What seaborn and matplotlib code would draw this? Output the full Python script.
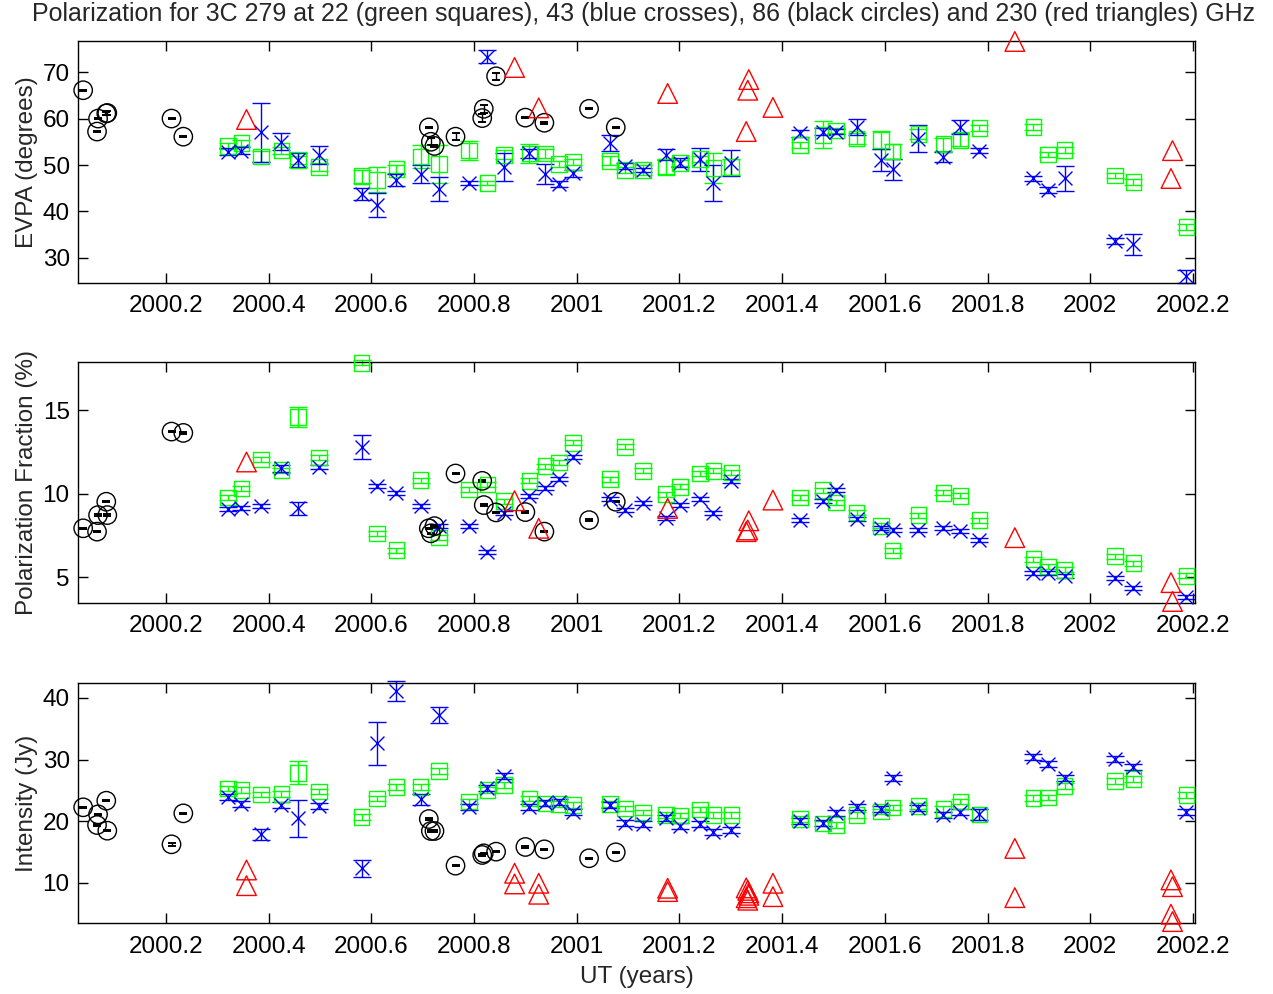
import numpy as np
import pandas as pd
import matplotlib
matplotlib.use("Agg")
import matplotlib.pyplot as plt
from matplotlib.ticker import FixedLocator, FuncFormatter
import seaborn as sns

# ---- 22 & 43 GHz (VLBA) epochs, decimal years ----
t_vlba = [2000.321, 2000.347, 2000.385, 2000.425, 2000.457, 2000.498, 2000.581,
          2000.611, 2000.649, 2000.696, 2000.732, 2000.790, 2000.826, 2000.858,
          2000.908, 2000.939, 2000.965, 2000.993, 2001.065, 2001.094, 2001.129,
          2001.174, 2001.201, 2001.240, 2001.266, 2001.301, 2001.435, 2001.479,
          2001.505, 2001.545, 2001.592, 2001.615, 2001.665, 2001.714, 2001.747,
          2001.784, 2001.889, 2001.918, 2001.950, 2002.048, 2002.084, 2002.187]

# 43 GHz
evpa43 = [52.9, 53.1, 57.0, 55.0, 51.1, 52.2, 43.7, 41.3, 46.8, 48.1, 44.8, 46.1,
          73.3, 49.5, 52.5, 48.1, 45.9, 48.2, 54.7, 49.8, 48.9, 52.2, 50.5, 51.2,
          46.2, 50.4, 56.8, 57.2, 57.2, 58.1, 51.1, 49.1, 55.7, 51.8, 58.1, 53.1,
          47.1, 44.6, 47.1, 33.7, 32.9, 26.0]
evpa43_err = [0.7, 0.7, 6.3, 1.8, 1.5, 1.9, 1.3, 2.6, 1.3, 1.9, 2.6, 0.5,
              1.4, 3.0, 1.0, 2.2, 0.6, 0.8, 1.7, 0.6, 0.5, 1.2, 1.0, 2.5,
              3.9, 2.8, 0.7, 0.8, 0.6, 1.7, 2.3, 2.3, 3.0, 1.1, 1.5, 0.6,
              0.6, 0.7, 2.6, 0.6, 2.2, 1.5]
frac43 = [9.07, 9.13, 9.29, 11.52, 9.13, 11.62, 12.81, 10.46, 10.06, 9.27, 8.07, 8.09,
          6.50, 8.83, 9.87, 10.33, 10.92, 12.18, 9.69, 9.03, 9.43, 8.57, 9.33, 9.67,
          8.83, 10.78, 8.43, 9.57, 10.22, 8.49, 7.97, 7.84, 7.84, 7.97, 7.78, 7.24,
          5.25, 5.25, 5.09, 4.99, 4.35, 3.85]
frac43_err = [0.12, 0.12, 0.12, 0.20, 0.40, 0.12, 0.70, 0.12, 0.12, 0.12, 0.12, 0.12,
              0.12, 0.12, 0.12, 0.12, 0.12, 0.12, 0.12, 0.12, 0.12, 0.12, 0.12, 0.12,
              0.12, 0.12, 0.12, 0.12, 0.12, 0.12, 0.12, 0.12, 0.12, 0.12, 0.12, 0.12,
              0.12, 0.12, 0.12, 0.12, 0.12, 0.12]
int43 = [23.97, 22.79, 17.89, 22.63, 20.47, 22.47, 12.38, 32.62, 41.13, 23.55, 37.20, 22.36,
         25.43, 27.32, 22.36, 22.90, 23.17, 21.44, 22.63, 19.77, 19.55, 20.47, 19.28, 19.55,
         18.20, 18.58, 20.09, 19.66, 21.28, 22.26, 21.93, 27.05, 22.20, 21.00, 21.55, 21.12,
         30.45, 29.22, 26.95, 30.08, 28.83, 21.45]
int43_err = [0.5, 0.5, 0.9, 0.5, 3.0, 0.5, 1.35, 3.5, 1.6, 0.9, 1.35, 0.5,
             0.5, 0.5, 0.5, 0.5, 0.5, 0.5, 0.5, 0.5, 0.5, 0.5, 0.5, 0.5,
             0.5, 0.5, 0.5, 0.5, 0.5, 0.5, 0.5, 0.5, 0.5, 0.5, 0.5, 0.9,
             0.5, 0.5, 0.5, 0.5, 0.5, 0.5]

# 22 GHz
evpa22 = [54.1, 54.7, 51.8, 53.1, 51.1, 49.6, 47.6, 46.8, 49.1, 51.8, 50.2, 53.1,
          46.1, 52.2, 52.5, 52.5, 50.2, 50.7, 50.9, 48.9, 48.9, 49.6, 50.4, 51.3,
          49.3, 49.6, 54.3, 56.5, 57.4, 55.7, 55.4, 52.9, 56.7, 54.5, 55.4, 58.0,
          58.2, 52.3, 53.2, 47.7, 46.3, 36.7]
evpa22_err = [0.7, 0.7, 1.25, 0.8, 0.8, 0.8, 1.4, 2.7, 0.8, 2.5, 4.1, 2.1,
              0.5, 1.0, 2.0, 1.0, 0.6, 0.6, 1.0, 0.6, 1.0, 1.6, 0.6, 0.7,
              3.2, 1.8, 0.6, 2.9, 0.6, 1.25, 2.0, 1.6, 1.0, 1.4, 1.4, 0.6,
              0.6, 0.6, 0.6, 0.6, 0.6, 0.6]
frac22 = [9.79, 10.33, 12.06, 11.42, 14.60, 12.18, 17.85, 7.64, 6.64, 10.82, 7.38, 10.27,
          10.56, 9.57, 10.78, 11.66, 11.88, 13.05, 10.88, 12.81, 11.38, 9.99, 10.42, 11.22,
          11.38, 11.28, 9.79, 10.22, 9.49, 8.89, 8.09, 6.60, 8.73, 10.06, 9.88, 8.43,
          6.10, 5.64, 5.45, 6.28, 5.85, 5.09]
frac22_err = [0.15, 0.15, 0.15, 0.15, 0.58, 0.15, 0.15, 0.15, 0.15, 0.15, 0.15, 0.15,
              0.15, 0.15, 0.15, 0.15, 0.15, 0.15, 0.15, 0.15, 0.15, 0.15, 0.15, 0.15,
              0.15, 0.15, 0.15, 0.15, 0.15, 0.15, 0.15, 0.15, 0.15, 0.15, 0.15, 0.15,
              0.15, 0.15, 0.15, 0.15, 0.15, 0.15]
int22 = [25.33, 25.06, 24.36, 24.41, 27.86, 24.79, 20.73, 23.71, 25.59, 25.59, 28.18, 23.17,
         25.06, 25.87, 23.71, 22.90, 22.79, 22.63, 22.79, 22.09, 21.45, 21.00, 20.90, 21.93,
         21.00, 21.00, 20.36, 19.66, 19.39, 21.00, 21.55, 22.26, 22.47, 21.98, 23.17, 21.12,
         23.81, 23.87, 25.75, 26.56, 26.84, 24.25]
int22_err = [0.45, 0.45, 0.45, 0.45, 1.9, 0.45, 0.45, 0.45, 0.45, 0.45, 0.45, 0.45,
             0.45, 0.45, 0.45, 0.45, 0.45, 0.45, 0.45, 0.45, 0.45, 0.45, 0.45, 0.45,
             0.45, 0.45, 0.45, 0.45, 0.45, 0.45, 0.45, 0.45, 0.45, 0.45, 0.45, 0.9,
             0.45, 0.45, 0.45, 0.45, 0.45, 0.45]

# ---- 86 GHz ----
t86 = [2000.039, 2000.066, 2000.068, 2000.084, 2000.086, 2000.211, 2000.234,
       2000.712, 2000.716, 2000.723, 2000.764, 2000.816, 2000.819, 2000.843,
       2000.900, 2000.937, 2001.024, 2001.076]
evpa86 = [66.1, 57.2, 60.0, 61.1, 61.2, 60.0, 56.1, 58.1, 55.0, 54.1, 56.1, 60.1,
          62.1, 69.1, 60.2, 59.1, 62.1, 58.1]
frac86 = [7.94, 7.74, 8.73, 9.53, 8.73, 13.73, 13.65, 7.94, 7.64, 8.07, 11.22, 10.78,
          9.33, 8.89, 8.91, 7.74, 8.43, 9.53]
int86 = [22.26, 19.39, 21.12, 23.33, 18.47, 16.26, 21.28, 20.36, 18.42, 18.42, 12.80, 14.53,
         14.80, 15.07, 15.83, 15.45, 14.00, 14.97]
evpa86_err = [0.15, 0.15, 0.15, 0.4, 0.4, 0.15, 0.15, 0.15, 0.8, 0.15, 0.8, 0.8,
              0.8, 0.8, 0.15, 0.2, 0.15, 0.15]
frac86_err = [0.04, 0.04, 0.06, 0.04, 0.06, 0.04, 0.04, 0.04, 0.04, 0.04, 0.04, 0.06,
              0.06, 0.04, 0.04, 0.04, 0.04, 0.04]
int86_err = [0.1, 0.1, 0.1, 0.1, 0.1, 0.2, 0.1, 0.1, 0.1, 0.1, 0.1, 0.1,
             0.1, 0.1, 0.1, 0.1, 0.1, 0.1]

# ---- 230 GHz ----
t230 = [2000.357, 2000.879, 2000.926, 2001.177, 2001.330, 2001.333, 2001.335,
        2001.382, 2001.853, 2002.157, 2002.160]
evpa230 = [59.8, 71.0, 62.3, 65.4, 57.2, 66.1, 68.4, 62.4, 76.6, 47.1, 53.1]
frac230 = [11.91, 9.59, 7.94, 9.13, 7.74, 7.84, 8.39, 9.63, 7.38, 4.69, 3.56]
int230_hi = [12.10, 11.57, 9.95, 9.14, 9.20, 8.80, 8.40, 9.95, 15.60, 10.49, 9.40]
int230_lo = [9.56, 9.84, 8.17, 8.60, 7.60, 7.20, 8.00, 7.78, 7.62, 4.93, 3.74]

x_ticks = [2000.2, 2000.4, 2000.6, 2000.8, 2001.0, 2001.2, 2001.4, 2001.6, 2001.8, 2002.0, 2002.2]
x_lim = (2000.029, 2002.204)

GREEN, BLUE, BLACK, RED = (0, 1, 0), (0, 0, 1), (0, 0, 0), (1, 0, 0)

sns.set_style("ticks")
plt.rcParams["font.family"] = ["Liberation Sans", "DejaVu Sans"]
plt.rcParams["font.size"] = 17.5

fig = plt.figure(figsize=(12.73, 9.94), dpi=100)
ax_evpa = fig.add_axes([0.0613, 0.7153, 0.8775, 0.2430])
ax_frac = fig.add_axes([0.0613, 0.3934, 0.8775, 0.2425])
ax_int = fig.add_axes([0.0613, 0.0714, 0.8775, 0.2414])

# capsize is the half-width of the caps, in points
STYLE = {
    "22": dict(color=GREEN, marker="s", s=125, cap=6.8, lw=1.0),
    "43": dict(color=BLUE, marker="x", s=100, cap=6.8, lw=1.0),
    "86": dict(color=BLACK, marker="o", s=175, cap=3.2, lw=1.4),
    "230": dict(color=RED, marker="^", s=200, cap=0, lw=1.0),
}


def draw(ax, band, t, v, err=None):
    st = STYLE[band]
    if err is not None:
        ax.errorbar(t, v, yerr=err, fmt="none", ecolor=st["color"], elinewidth=1.0,
                    capsize=st["cap"], capthick=st["lw"], zorder=2, clip_on=False)
    df = pd.DataFrame({"t": t, "v": v})
    kw = dict(data=df, x="t", y="v", ax=ax, marker=st["marker"], s=st["s"],
              color=st["color"], linewidth=1.0, zorder=3, legend=False, clip_on=False)
    if st["marker"] != "x":
        kw.update(facecolor="none", edgecolor=st["color"])
    sns.scatterplot(**kw)


draw(ax_evpa, "22", t_vlba, evpa22, evpa22_err)
draw(ax_evpa, "43", t_vlba, evpa43, evpa43_err)
draw(ax_evpa, "86", t86, evpa86, evpa86_err)
draw(ax_evpa, "230", t230, evpa230)

draw(ax_frac, "22", t_vlba, frac22, frac22_err)
draw(ax_frac, "43", t_vlba, frac43, frac43_err)
draw(ax_frac, "86", t86, frac86, frac86_err)
draw(ax_frac, "230", t230, frac230)

draw(ax_int, "22", t_vlba, int22, int22_err)
draw(ax_int, "43", t_vlba, int43, int43_err)
draw(ax_int, "86", t86, int86, int86_err)
draw(ax_int, "230", t230, int230_hi)
draw(ax_int, "230", t230, int230_lo)

panels = [
    (ax_evpa, (24.6, 76.6), [30, 40, 50, 60, 70], "EVPA (degrees)"),
    (ax_frac, (3.47, 17.9), [5, 10, 15], "Polarization Fraction (%)"),
    (ax_int, (3.5, 42.4), [10, 20, 30, 40], "Intensity (Jy)"),
]
for ax, ylim, yt, ylab in panels:
    ax.set_xlim(*x_lim)
    ax.set_ylim(*ylim)
    ax.xaxis.set_major_locator(FixedLocator(x_ticks))
    ax.xaxis.set_major_formatter(FuncFormatter(lambda v, p: f"{v:g}"))
    ax.yaxis.set_major_locator(FixedLocator(yt))
    ax.tick_params(direction="in", length=7, width=1.0, top=True, right=True,
                   labelsize=17.5, colors="black")
    ax.tick_params(axis="x", pad=9)
    ax.tick_params(axis="y", pad=6)
    for sp in ax.spines.values():
        sp.set_visible(True)
        sp.set_linewidth(1.0)
        sp.set_color("black")
    ax.set_xlabel("")
    ax.set_ylabel(ylab, fontsize=17.5, labelpad=3)

ax_int.set_xlabel("UT (years)", fontsize=17.5, labelpad=6)

fig.text(0.5055, 1 - 14 / 994,
         "Polarization for 3C 279 at 22 (green squares), 43 (blue crosses), "
         "86 (black circles) and 230 (red triangles) GHz",
         ha="center", va="center", fontsize=18)

fig.savefig("out.png", dpi=100)
